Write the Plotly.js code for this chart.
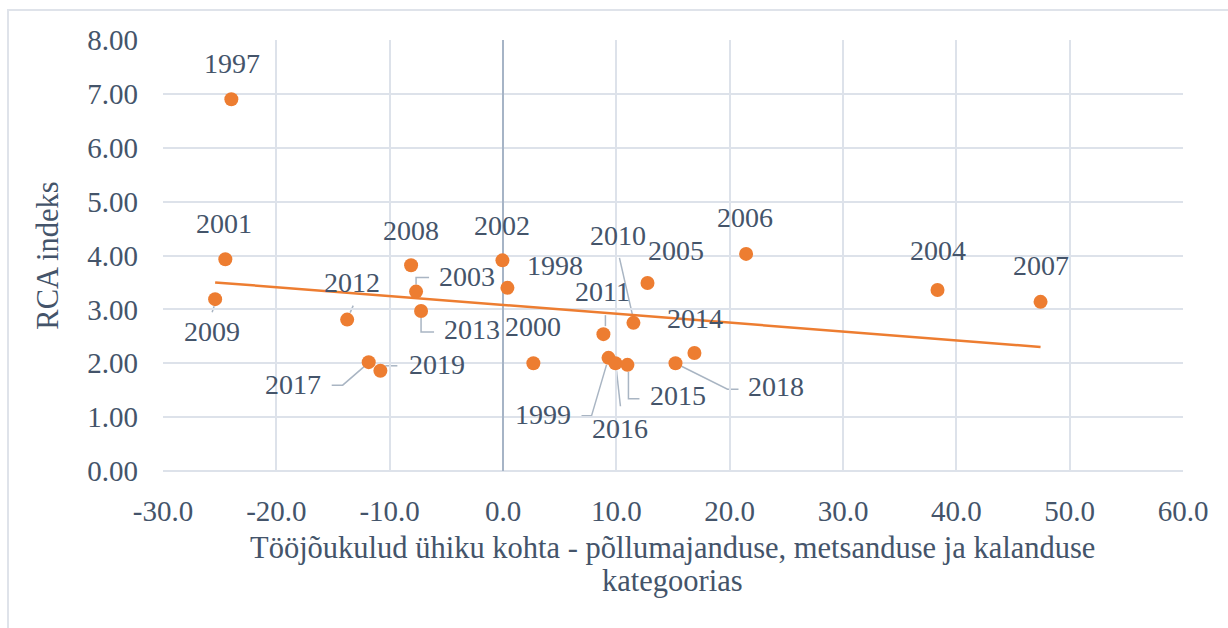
<!DOCTYPE html>
<html><head><meta charset="utf-8">
<script src="https://cdn.plot.ly/plotly-3.0.1.min.js"></script>
<style>
html,body{margin:0;padding:0;background:#fff;overflow:hidden;}
#frame{position:absolute;left:7px;top:9px;width:1400px;height:800px;border-top:2px solid #dfe3ea;border-left:2px solid #dfe3ea;}
#chart{position:absolute;left:0;top:0;width:1228px;height:628px;}
</style></head><body>
<div id="frame"></div><div id="chart"></div>
<script>
// ---- data ----
const years     = ['1997','2001','2009','2012','2017','2019','2008','2003','2013','2002','1998','2000','2011','1999','2016','2015','2010','2005','2018','2014','2006','2004','2007'];
const laborCost = [-23.97,-24.50,-25.40,-13.75,-11.85,-10.82,-8.11,-7.67,-7.23,-0.05,0.39,2.68,8.86,9.31,9.92,10.98,11.51,12.75,15.22,16.89,21.45,38.34,47.43];
const rcaIndex  = [6.90,3.93,3.19,2.81,2.02,1.86,3.82,3.33,2.97,3.91,3.40,2.00,2.54,2.10,2.00,1.97,2.75,3.49,2.00,2.19,4.03,3.36,3.14];
const xTickVals = [-30,-20,-10,0,10,20,30,40,50,60];
const xTickText = ['-30.0','-20.0','-10.0','0.0','10.0','20.0','30.0','40.0','50.0','60.0'];
const yTickVals = [0,1,2,3,4,5,6,7,8];
const yTickText = ['0.00','1.00','2.00','3.00','4.00','5.00','6.00','7.00','8.00'];
const xTitleLines = ['Tööjõukulud ühiku kohta - põllumajanduse, metsanduse ja kalanduse', 'kategoorias'];
const yTitle = 'RCA indeks';

// ---- label placement (screen pixel offsets from the point, y downwards) ----
const labelOffset = {
  '1997':[1,-36],'2001':[-1,-36],'2009':[-3,32],'2012':[5,-37],'2017':[-76,22],'2019':[57,-6],
  '2008':[0,-35],'2003':[51,-15],'2013':[51,19],'2002':[0,-35],'1998':[48,-22],'2000':[0,-37],
  '2011':[-1,-43],'1999':[-66,57],'2016':[5,65],'2015':[51,31],'2010':[-15,-87],'2005':[28,-32],
  '2018':[101,23],'2014':[1,-35],'2006':[-1,-36],'2004':[0,-39],'2007':[0,-36]
};
// leader lines (screen pixel offsets from the point, y downwards)
const leaders = {
  '2009':[[-1,7],[-3,13]],
  '2012':[[3,-7],[6,-14]],
  '2017':[[-4,4],[-26,23],[-37,23]],
  '2019':[[5,-5],[17,-5]],
  '2003':[[0,-7],[0,-14],[13,-14]],
  '2013':[[0,7],[0,21],[13,21]],
  '2011':[[2,-8],[2,-19]],
  '1999':[[-2,7],[-17,58],[-27,58]],
  '2016':[[1,7],[5,43]],
  '2015':[[1,7],[1,34],[12,34]],
  '2010':[[-1,-8],[-14,-65]],
  '2018':[[6,3],[52,26],[63,26]]
};

const textColor = '#44546a';
const fontFam = 'Times New Roman, Liberation Serif, Tinos, Noto Serif, DejaVu Serif, serif';

// linear trendline from the data
const n = laborCost.length;
const mx = laborCost.reduce((a,b)=>a+b,0)/n;
const my = rcaIndex.reduce((a,b)=>a+b,0)/n;
let sxy=0,sxx=0;
for(let i=0;i<n;i++){sxy+=(laborCost[i]-mx)*(rcaIndex[i]-my);sxx+=(laborCost[i]-mx)**2;}
const slope=sxy/sxx, icpt=my-slope*mx;
const xmin=Math.min(...laborCost), xmax=Math.max(...laborCost);

const traces = [
  {x:[xmin,xmax], y:[icpt+slope*xmin, icpt+slope*xmax], mode:'lines', type:'scatter',
   line:{color:'#ed7d31', width:2.5}, hoverinfo:'skip'},
  {x:laborCost, y:rcaIndex, mode:'markers', type:'scatter',
   marker:{color:'#ed7d31', size:14, line:{width:0}}, text:years}
];

const annotations = years.map((yr,i)=>({
  x:laborCost[i], y:rcaIndex[i], xref:'x', yref:'y', text:yr, showarrow:false,
  xshift:labelOffset[yr][0], yshift:-labelOffset[yr][1], xanchor:'center', yanchor:'middle',
  font:{family:fontFam, size:28, color:textColor}
}));
// x-axis title, two lines
xTitleLines.forEach((t,k)=>annotations.push({
  x:0.5, y:0, xref:'paper', yref:'paper', text:t, showarrow:false, xanchor:'center', yanchor:'middle',
  xshift:-1, yshift:-(77+33*k), font:{family:fontFam, size:30.5, color:textColor}
}));

const shapes = [];
years.forEach((yr,i)=>{
  const pts = leaders[yr]; if(!pts) return;
  const path = pts.map((p,k)=>(k?'L':'M')+p[0]+','+(-p[1])).join(' ');
  shapes.push({type:'path', xref:'x', yref:'y', xsizemode:'pixel', ysizemode:'pixel',
    xanchor:laborCost[i], yanchor:rcaIndex[i], path:path, layer:'below',
    line:{color:'#a9b5c3', width:1.5}});
});

const layout = {
  width:1228, height:628,
  margin:{l:163, r:45, t:40, b:157},
  paper_bgcolor:'rgba(0,0,0,0)', plot_bgcolor:'#ffffff',
  showlegend:false,
  font:{family:fontFam, color:textColor},
  xaxis:{range:[-30,60], tickvals:xTickVals, ticktext:xTickText, showgrid:true, gridcolor:'#dde2ea', gridwidth:2,
    zeroline:true, zerolinecolor:'#a6b4c6', zerolinewidth:2, showline:false, ticks:'',
    ticklabelstandoff:20, tickfont:{family:fontFam, size:29, color:textColor}},
  yaxis:{range:[0,8], tickvals:yTickVals, ticktext:yTickText, showgrid:true, gridcolor:'#dde2ea', gridwidth:2,
    zeroline:false, showline:false, ticks:'',
    ticklabelstandoff:24, tickfont:{family:fontFam, size:29, color:textColor},
    title:{text:yTitle, standoff:19, font:{family:fontFam, size:30.5, color:textColor}}},
  annotations:annotations,
  shapes:shapes.concat([
    {type:'line', xref:'paper', yref:'paper', x0:0, x1:1, y0:0, y1:0, line:{color:'#dde2ea', width:2}, layer:'below'}
  ])
};

Plotly.newPlot('chart', traces, layout, {staticPlot:true, displayModeBar:false});
</script>
</body></html>
